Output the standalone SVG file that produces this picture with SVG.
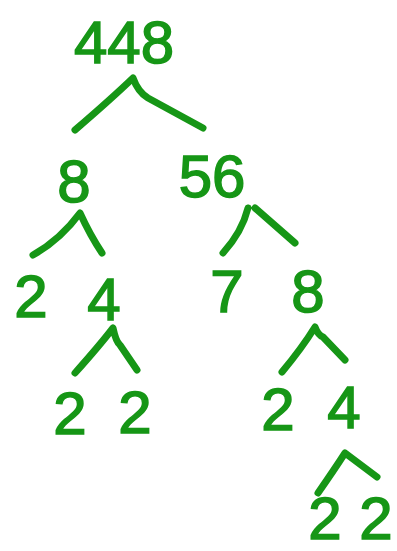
<svg xmlns="http://www.w3.org/2000/svg" width="397" height="551" viewBox="0 0 397 551">
<style>
.n{font-family:"Liberation Sans",Arial,sans-serif;fill:#169616;stroke:#169616;stroke-width:1.5;text-anchor:middle;font-size:60px}
.e{fill:none;stroke:#169616;stroke-width:7;stroke-linecap:round;stroke-linejoin:round}
</style>
<rect width="397" height="551" fill="#ffffff"/>
<g id="connectors">
<path class="e" d="M75,130 Q110,100 133,78 Q138,92 148,98 L203,128"/>
<path class="e" d="M33,255 Q60,240 80,213 Q90,235 102,253"/>
<path class="e" d="M223,253 Q242,232 248,208 M255,208 L295,243"/>
<path class="e" d="M75,373 Q100,345 113,328 Q116,342 120,345 L137,370"/>
<path class="e" d="M282,372 Q302,348 315,327 Q318,335 323,337 L345,360"/>
<path class="e" d="M318,493 Q334,470 345,453 L377,477"/>
</g>
<g id="n448"><text class="n" x="124" y="63" font-size="66">448</text></g>
<g id="n8a"><text class="n" x="74" y="202" font-size="76">8</text></g>
<g id="n56"><text class="n" x="212" y="197" font-size="66">56</text></g>
<g id="n2a"><text class="n" x="31" y="317">2</text></g>
<g id="n4a"><text class="n" x="104" y="320" font-size="66">4</text></g>
<g id="n7"><text class="n" x="227" y="312" font-size="64">7</text></g>
<g id="n8b"><text class="n" x="308" y="312" font-size="66">8</text></g>
<g id="n2b"><text class="n" x="70" y="434" font-size="64">2</text></g>
<g id="n2c"><text class="n" x="135" y="433">2</text></g>
<g id="n2d"><text class="n" x="278" y="430">2</text></g>
<g id="n4b"><text class="n" x="344" y="428" font-size="66">4</text></g>
<g id="n2e"><text class="n" x="325" y="539" font-size="50">2</text></g>
<g id="n2f"><text class="n" x="376" y="539" font-size="50">2</text></g>
</svg>
